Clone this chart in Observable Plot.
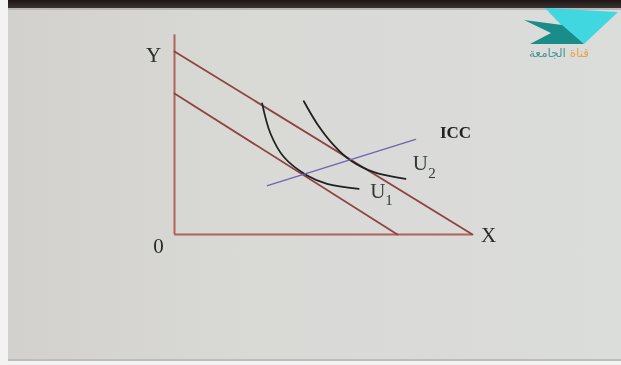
<!DOCTYPE html>
<html>
<head>
<meta charset="utf-8">
<script src="https://cdn.jsdelivr.net/npm/d3@7"></script>
<script src="https://cdn.jsdelivr.net/npm/@observablehq/plot@0.6"></script>
<style>
  html, body { margin: 0; padding: 0; }
  body { width: 621px; height: 365px; position: relative; overflow: hidden; background: #f3f3f2; }
  #topbar { position: absolute; left: 8px; top: 0; width: 613px; height: 8px; background: linear-gradient(#1d1716, #3a3331); }
  #slide { position: absolute; left: 8px; top: 8px; width: 613px; height: 353px;
           background: linear-gradient(90deg, #d2d1ce 0%, #d9d9d6 40%, #dbdddb 100%);
           border-top: 2px solid #b9b7b4; border-bottom: 2px solid #bdbdbb; box-sizing: border-box; }
  #logo { position: absolute; left: 500px; top: 0; width: 121px; height: 70px; }
  #logo-text { position: absolute; left: 516px; top: 46px; width: 86px; font: 12px "DejaVu Sans", sans-serif;
               letter-spacing: 0.5px; direction: rtl; text-align: center; filter: blur(0.4px); }
  #chart { position: absolute; left: 0; top: 0; }
  #chart svg { filter: blur(0.45px); }
</style>
</head>
<body>
<div id="topbar"></div>
<div id="slide"></div>
<svg id="logo" viewBox="500 0 121 70" width="121" height="70">
  <polygon points="545,8 618,12 584,44 566,30" fill="#2fd6e0" opacity="0.9"/>
  <polygon points="524,20 562,25 584,44 530,44 551,33" fill="#1a8c8a"/>
</svg>
<div id="logo-text"><span style="color:#e8a24a">قناة</span> <span style="color:#4a9696">الجامعة</span></div>
<div id="chart"></div>
<script>
// Axes, in the chart's own units (origin at 0,0)
const axisY = [{x: 0, y1: 0, y2: 67}];
const axisX = [{y: 0, x1: 0, x2: 100}];

// Budget lines: outer (higher income) and inner
const budgetOuter = [{x: 0, y: 61.4}, {x: 100, y: 0}];
const budgetInner = [{x: 0, y: 47.3}, {x: 74.8, y: 0}];

// Indifference curves U1 and U2
const curveU1 = [
  {x: 29.4, y: 44.0}, {x: 32.2, y: 33.9}, {x: 36.7, y: 26.0},
  {x: 44.5, y: 19.8}, {x: 51.2, y: 17.0}, {x: 61.8, y: 15.3}
];
const curveU2 = [
  {x: 43.4, y: 44.7}, {x: 47.9, y: 37.1}, {x: 53.5, y: 29.9},
  {x: 59.1, y: 24.8}, {x: 66.9, y: 20.9}, {x: 77.5, y: 18.7}
];

// Income consumption curve
const icc = [{x: 31.2, y: 16.4}, {x: 80.9, y: 31.9}];

// Labels
const axisLabels = [
  {x: -7.0, y: 60.1, text: "Y"},
  {x: -5.4, y: -4.0, text: "0"},
  {x: 105.4, y: -0.3, text: "X"}
];
const curveLabels = [
  {x: 82.5, y: 24.0, text: "U", sub: "2", sx: 86.4, sy: 20.6},
  {x: 68.2, y: 14.6, text: "U", sub: "1", sx: 72.0, sy: 11.6}
];
const iccLabel = [{x: 94.3, y: 34.2, text: "ICC"}];

const axisColor = "#b0625c";
const budgetColor = "#8e4440";
const serif = "'Liberation Serif', 'DejaVu Serif', serif";

const chart = Plot.plot({
  width: 621,
  height: 365,
  x: {domain: [0, 100], range: [174, 472], axis: null},
  y: {domain: [0, 100], range: [234, -64], axis: null},
  style: {background: "transparent", overflow: "visible"},
  marks: [
    Plot.ruleX(axisY, {x: "x", y1: "y1", y2: "y2", stroke: axisColor, strokeWidth: 2}),
    Plot.ruleY(axisX, {y: "y", x1: "x1", x2: "x2", stroke: axisColor, strokeWidth: 2}),
    Plot.line(budgetOuter, {x: "x", y: "y", stroke: budgetColor, strokeWidth: 1.8}),
    Plot.line(budgetInner, {x: "x", y: "y", stroke: budgetColor, strokeWidth: 1.8}),
    Plot.line(curveU1, {x: "x", y: "y", curve: "catmull-rom", stroke: "#1f2222", strokeWidth: 1.8}),
    Plot.line(curveU2, {x: "x", y: "y", curve: "catmull-rom", stroke: "#1f2222", strokeWidth: 1.8}),
    Plot.line(icc, {x: "x", y: "y", stroke: "#7262b4", strokeWidth: 1.4}),
    Plot.text(axisLabels, {x: "x", y: "y", text: "text", fontFamily: serif, fontSize: 21, fill: "#2a2a2a"}),
    Plot.text(curveLabels, {x: "x", y: "y", text: "text", fontFamily: serif, fontSize: 21, fill: "#2f3a34"}),
    Plot.text(curveLabels, {x: "sx", y: "sy", text: "sub", fontFamily: serif, fontSize: 15, fill: "#2f3a34"}),
    Plot.text(iccLabel, {x: "x", y: "y", text: "text", fontFamily: serif, fontSize: 17, fontWeight: "bold", fill: "#222", letterSpacing: 1.2})
  ]
});
document.getElementById("chart").append(chart);
</script>
</body>
</html>
